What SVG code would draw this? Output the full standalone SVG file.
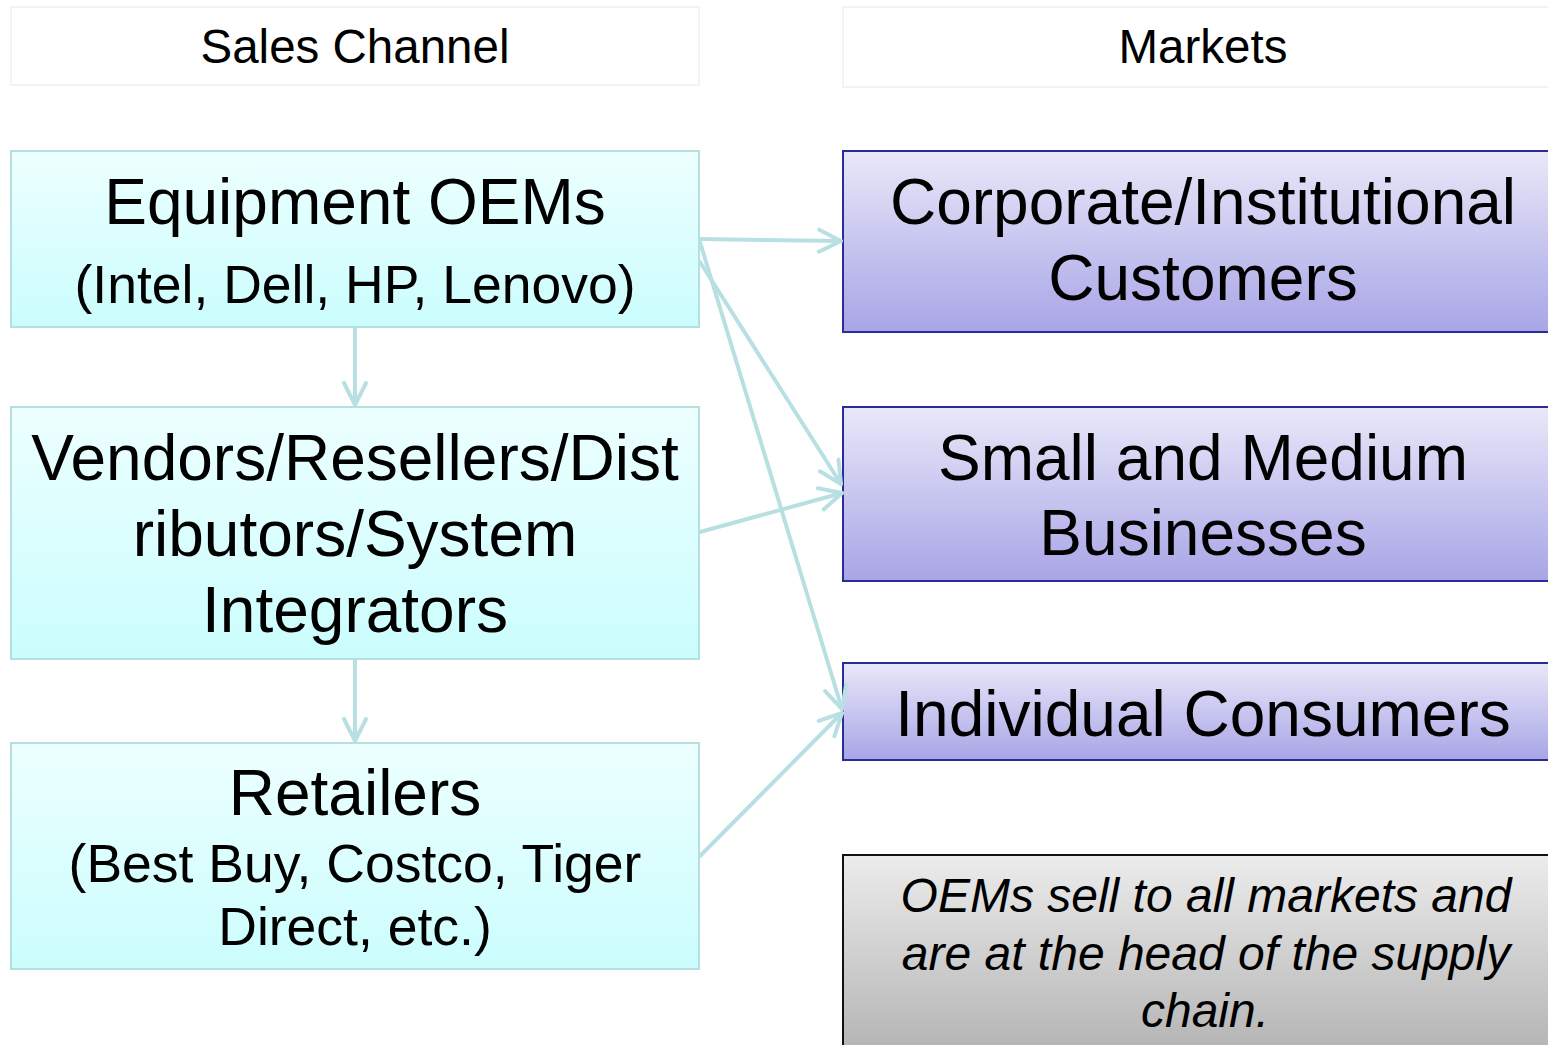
<svg xmlns="http://www.w3.org/2000/svg" width="1548" height="1045" viewBox="0 0 1548 1045">
<defs>
<linearGradient id="gCyan" x1="0" y1="0" x2="0" y2="1"><stop offset="0" stop-color="#edffff"/><stop offset="1" stop-color="#cbfdfd"/></linearGradient>
<linearGradient id="gPurple" x1="0" y1="0" x2="0" y2="1"><stop offset="0" stop-color="#e8e8f9"/><stop offset="1" stop-color="#a8a5e6"/></linearGradient>
<linearGradient id="gGray" x1="0" y1="0" x2="0" y2="1"><stop offset="0" stop-color="#ececec"/><stop offset="1" stop-color="#b3b3b3"/></linearGradient>
<marker id="arr" markerUnits="userSpaceOnUse" markerWidth="30" markerHeight="30" viewBox="0 0 30 30" refX="26" refY="15" orient="auto">
<path d="M4,4 L26,15 L4,26" fill="none" stroke="#b8e0e2" stroke-width="4" stroke-linecap="round" stroke-linejoin="round"/>
</marker>
<style>
text{font-family:"Liberation Sans",Arial,sans-serif;fill:#000;text-anchor:middle}
.hdr{fill:#fff;stroke:#f3f3f3;stroke-width:2}
.left{fill:url(#gCyan);stroke:#b6dfe1;stroke-width:2}
.right{fill:url(#gPurple);stroke:#2b2b99;stroke-width:2}
.note{fill:url(#gGray);stroke:#111;stroke-width:2}
.big{font-size:64px}
.sub{font-size:53.5px}
.h{font-size:47.5px}
.it{font-size:48px;font-style:italic}
.c{fill:none;stroke:#b8e0e2;stroke-width:4;stroke-linecap:round;marker-end:url(#arr)}
</style>
</defs>
<g id="hdr-sales"><rect class="hdr" x="11" y="7" width="688" height="78"/><text class="h" x="355" y="63">Sales Channel</text></g>
<g id="hdr-markets"><rect class="hdr" x="843" y="7" width="720" height="80"/><text class="h" x="1203" y="63">Markets</text></g>
<g id="oems"><rect class="left" x="11" y="151" width="688" height="176"/><text class="big" x="355" y="224">Equipment OEMs</text><text class="sub" x="355" y="303">(Intel, Dell, HP, Lenovo)</text></g>
<g id="vendors"><rect class="left" x="11" y="407" width="688" height="252"/><text class="big" x="355" y="480">Vendors/Resellers/Dist</text><text class="big" x="355" y="556">ributors/System</text><text class="big" x="355" y="632">Integrators</text></g>
<g id="retailers"><rect class="left" x="11" y="743" width="688" height="226"/><text class="big" x="355" y="815">Retailers</text><text class="sub" x="355" y="882">(Best Buy, Costco, Tiger</text><text class="sub" x="355" y="945">Direct, etc.)</text></g>
<g id="corporate"><rect class="right" x="843" y="151" width="720" height="181"/><text class="big" x="1203" y="224">Corporate/Institutional</text><text class="big" x="1203" y="300">Customers</text></g>
<g id="smb"><rect class="right" x="843" y="407" width="720" height="174"/><text class="big" x="1203" y="480">Small and Medium</text><text class="big" x="1203" y="555">Businesses</text></g>
<g id="consumers"><rect class="right" x="843" y="663" width="720" height="97"/><text class="big" x="1203" y="736">Individual Consumers</text></g>
<g id="note"><rect class="note" x="843" y="855" width="720" height="200"/><text class="it" x="1206" y="912">OEMs sell to all markets and</text><text class="it" x="1206" y="970">are at the head of the supply</text><text class="it" x="1205" y="1027">chain.</text></g>
<g id="connectors">
<line class="c" x1="355" y1="328" x2="355" y2="405"/>
<line class="c" x1="355" y1="660" x2="355" y2="741"/>
<line class="c" x1="700" y1="239" x2="841" y2="241"/>
<line class="c" x1="700" y1="262" x2="841" y2="484"/>
<line class="c" x1="700" y1="242" x2="842" y2="709"/>
<line class="c" x1="700" y1="532" x2="842" y2="493"/>
<line class="c" x1="700" y1="856" x2="842" y2="713"/>
</g>
</svg>
